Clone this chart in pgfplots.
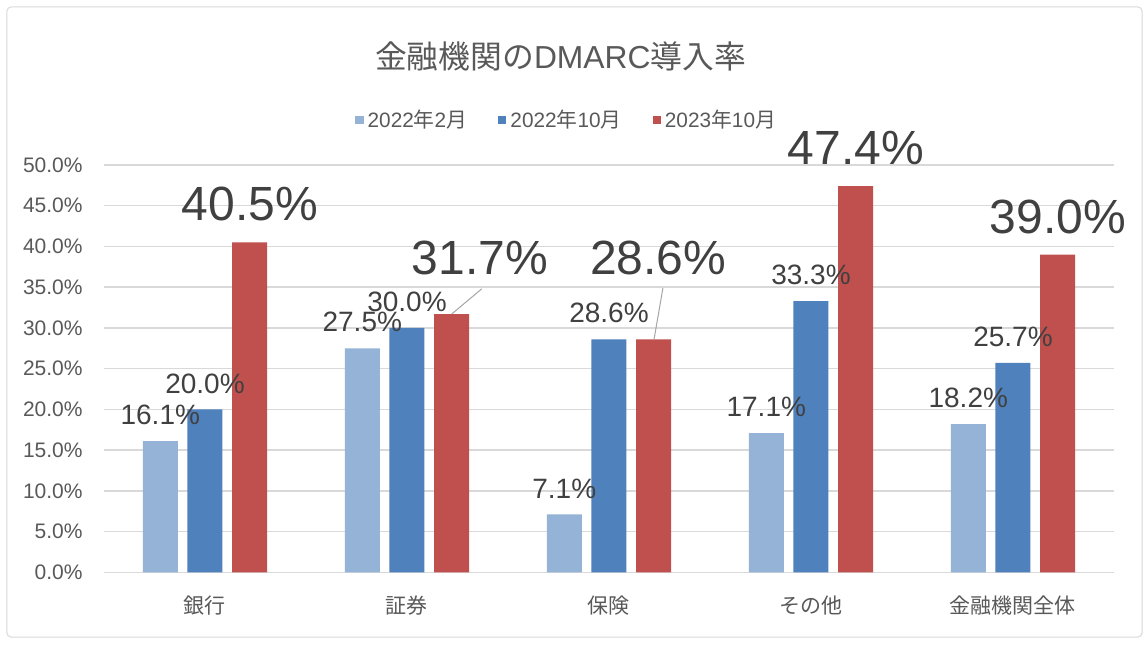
\documentclass[border=0pt]{standalone}
\usepackage{fontspec}
\setmainfont{Liberation Sans}
\newfontfamily\jp{Noto Sans CJK JP}
\usepackage{pgfplots}
\pgfplotsset{compat=1.18}

\definecolor{cLight}{HTML}{95B3D7}
\definecolor{cBlue}{HTML}{4F81BD}
\definecolor{cRed}{HTML}{C0504D}
\definecolor{cGrid}{HTML}{D9D9D9}
\definecolor{cTick}{HTML}{595959}
\definecolor{cLabel}{HTML}{404040}

\pgfplotsset{
  smalllabels/.style={
    nodes near coords={\pgfmathprintnumber[fixed,fixed zerofill,precision=1]{\pgfplotspointmeta}\%},
    every node near coord/.append style={font=\fontsize{14}{16}\selectfont, text=cLabel, anchor=center, yshift=13pt},
  },
}

\begin{document}
\begin{tikzpicture}
\fill[white] (-52pt,-35.85pt) rectangle (522pt,286.15pt);
\begin{axis}[
  scale only axis,
  width=505pt, height=203.65pt,
  xmin=-0.5, xmax=4.5,
  ymin=0, ymax=50,
  clip=false,
  ybar=4.85pt, bar width=17.5pt,
  xtick={0,1,2,3,4},
  xticklabels={銀行,証券,保険,その他,金融機関全体},
  ytick={0,5,10,15,20,25,30,35,40,45,50},
  /pgf/number format/assume math mode=true,
  yticklabel={\pgfmathprintnumber[fixed,fixed zerofill,precision=1]{\tick}\%},
  yticklabel style={anchor=east, inner sep=0pt, xshift=-10.5pt, font=\fontsize{10.5}{12}\selectfont, text=cTick},
  xticklabel style={anchor=center, inner sep=0pt, yshift=-16.5pt, font=\jp\fontsize{10.5}{12}\selectfont, text=cTick},
  major tick length=0pt,
  axis line style={draw=none},
  ymajorgrids=true,
  grid style={cGrid, line width=0.75pt},
  title={{\jp 金融機関の}DMARC{\jp 導入率}},
  title style={at={(0.452,1.267)}, anchor=center, yshift=-6pt, font=\fontsize{15.9}{18}\selectfont, text=cTick},
  legend columns=3,
  legend style={at={(0.459,1.11)}, anchor=center, draw=none, fill=none,
    font=\fontsize{10.4}{12}\selectfont, text=cTick,
    /tikz/every even column/.append style={column sep=13.5pt}},
  legend image code/.code={\fill[#1,draw=none] (0pt,-2.1pt) rectangle (4.2pt,2.1pt);},
]
\addplot[fill=cLight, draw=none, smalllabels]
  coordinates {(0,16.1) (1,27.5) (2,7.1) (3,17.1) (4,18.2)};
\addlegendentry{2022{\jp 年}2{\jp 月}}
\addplot[fill=cBlue, draw=none, smalllabels]
  coordinates {(0,20.0) (1,30.0) (2,28.6) (3,33.3) (4,25.7)};
\addlegendentry{2022{\jp 年}10{\jp 月}}
\addplot[fill=cRed, draw=none,
  visualization depends on={x \as \myx},
  nodes near coords={\pgfmathtruncatemacro\ix{round(\myx)}\ifnum\ix=1\relax\else\ifnum\ix=2\relax\else\pgfmathprintnumber[fixed,fixed zerofill,precision=1]{\pgfplotspointmeta}\%\fi\fi},
  every node near coord/.append style={font=\fontsize{24}{28}\selectfont, text=cLabel, anchor=center, yshift=19pt}]
  coordinates {(0,40.5) (1,31.7) (2,28.6) (3,47.4) (4,39.0)};
\addlegendentry{2023{\jp 年}10{\jp 月}}
% moved labels with leader lines
\draw[gray!70, line width=0.5pt] (axis cs:1.370,34.8) -- (axis cs:1.221,31.7);
\node[font=\fontsize{24}{28}\selectfont, text=cLabel, anchor=center] at (axis cs:1.361,38.6) {31.7\%};
\draw[gray!70, line width=0.5pt] (axis cs:2.267,34.9) -- (axis cs:2.223,28.6);
\node[font=\fontsize{24}{28}\selectfont, text=cLabel, anchor=center] at (axis cs:2.243,38.6) {28.6\%};
\end{axis}
\draw[cGrid, line width=0.5pt, rounded corners=2pt] (-48.5pt,-32.35pt) rectangle (519pt,282.65pt);
\pgfresetboundingbox
\path[use as bounding box] (-52pt,-35.85pt) rectangle (522pt,286.15pt);
\end{tikzpicture}
\end{document}
